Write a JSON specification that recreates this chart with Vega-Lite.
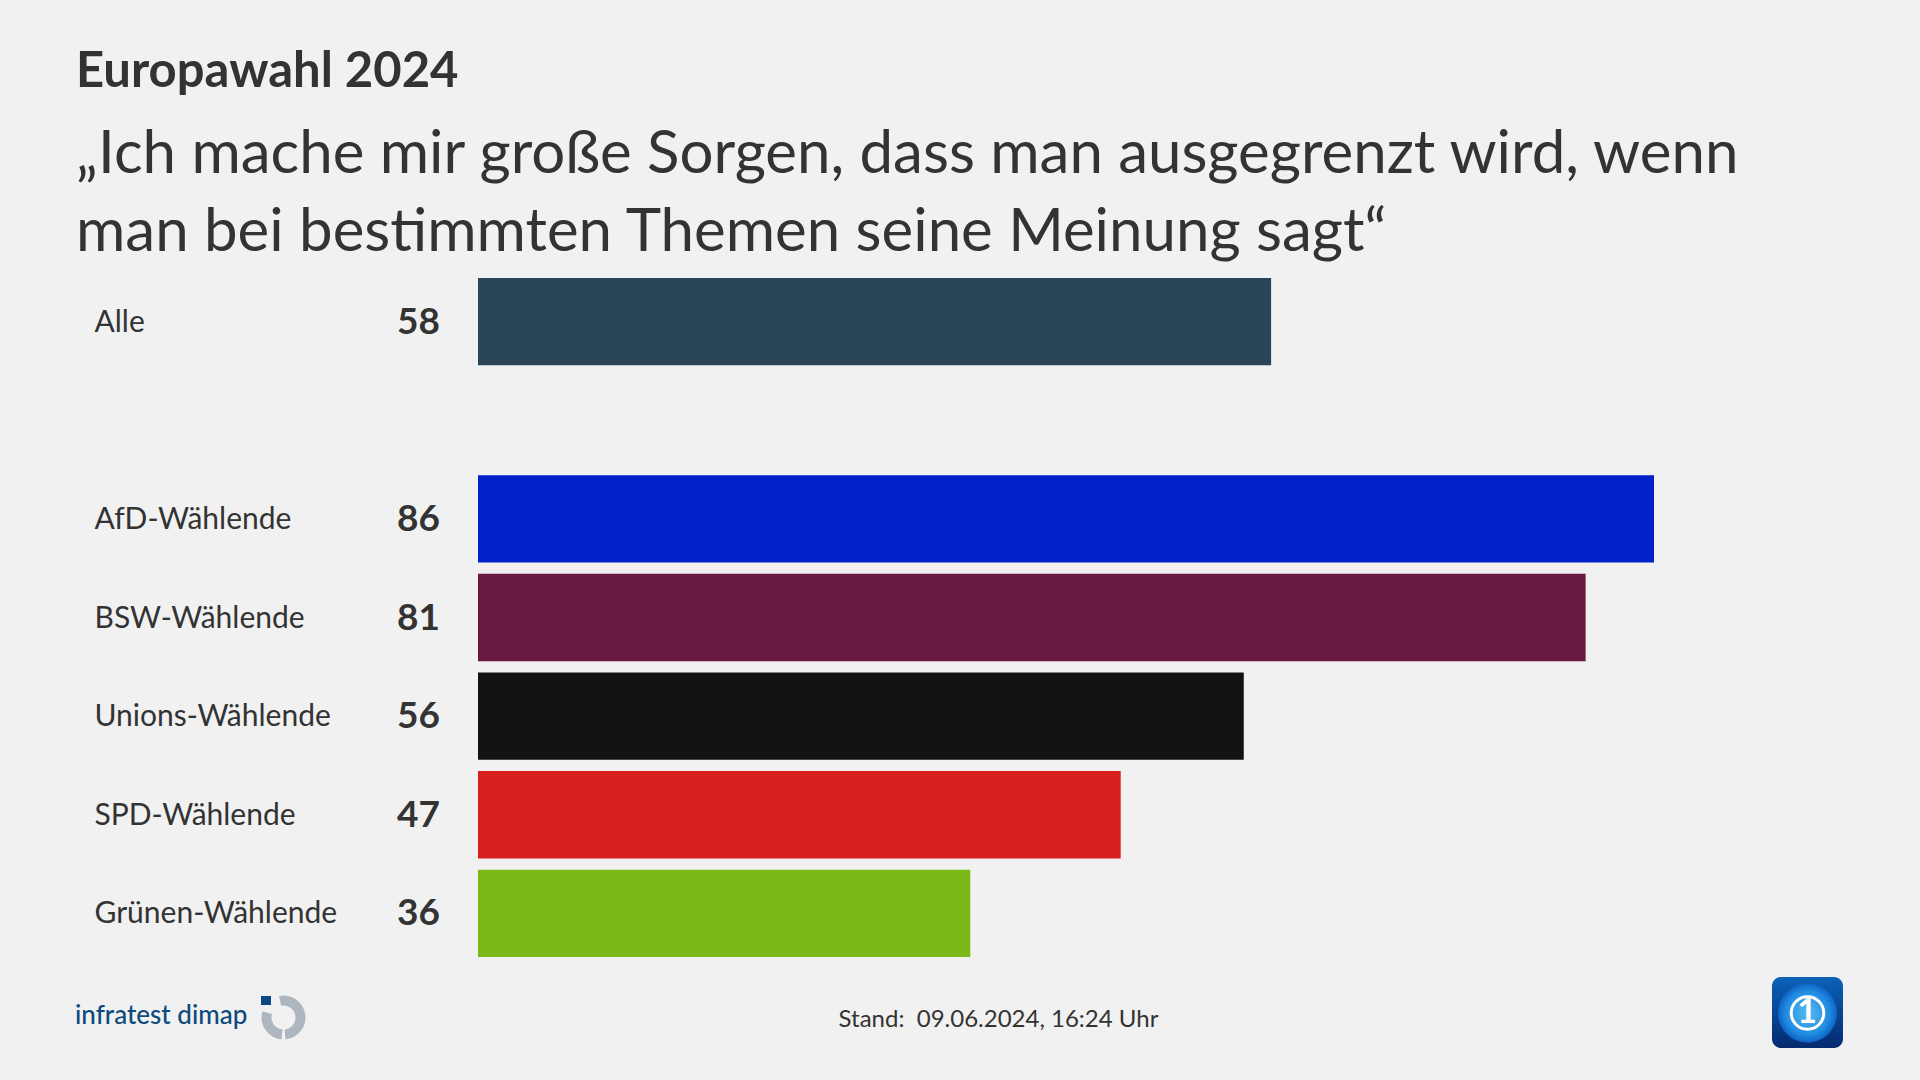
{
  "$schema": "https://vega.github.io/schema/vega-lite/v6.json",
  "background": "#f1f1f1",
  "autosize": {"type": "none"},
  "padding": {"left": 478, "top": 278, "right": 266, "bottom": 123},
  "width": 1176,
  "height": 679,
  "title": {
    "text": "Europawahl 2024",
    "subtitle": ["„Ich mache mir große Sorgen, dass man ausgegrenzt wird, wenn", "man bei bestimmten Themen seine Meinung sagt“"],
    "anchor": "start",
    "frame": "group",
    "dx": -402,
    "offset": 15,
    "font": "Lato",
    "fontSize": 49,
    "fontWeight": "bold",
    "color": "#333333",
    "subtitleFont": "Lato",
    "subtitleFontSize": 60,
    "subtitleFontWeight": "normal",
    "subtitleColor": "#333333",
    "subtitleLineHeight": 78,
    "subtitlePadding": 29
  },
  "datasets": {
    "bars": [
      {"gruppe": "Alle", "wert": 58},
      {"gruppe": "AfD-Wählende", "wert": 86},
      {"gruppe": "BSW-Wählende", "wert": 81},
      {"gruppe": "Unions-Wählende", "wert": 56},
      {"gruppe": "SPD-Wählende", "wert": 47},
      {"gruppe": "Grünen-Wählende", "wert": 36}
    ],
    "logo": [{"px": 283.5, "py": 1017.5}],
    "sq": [{"x1": 261, "x2": 271, "y1": 996, "y2": 1005}],
    "wort": [{"px": 75, "py": 1024, "t": "infratest dimap"}],
    "badge": [{"x1": 1772, "x2": 1843, "y1": 977, "y2": 1048}],
    "globus": [{"px": 1807.5, "py": 1013}],
    "eins": [{"px": 1807, "py": 1013, "t": "1"}]
  },
  "layer": [
    {
      "data": {"name": "bars"},
      "mark": {"type": "bar"},
      "encoding": {
        "y": {
          "field": "gruppe", "type": "nominal",
          "scale": {"domain": ["Alle", " ", "AfD-Wählende", "BSW-Wählende", "Unions-Wählende", "SPD-Wählende", "Grünen-Wählende"], "paddingInner": 0.114, "paddingOuter": 0},
          "axis": {"title": null, "domain": false, "ticks": false, "grid": false, "labelAlign": "left", "labelPadding": 384, "labelFont": "Lato", "labelFontSize": 30, "labelColor": "#333333", "labelLimit": 400, "labelOffset": 1}
        },
        "x": {
          "field": "wert", "type": "quantitative",
          "scale": {"domain": [0, 86], "nice": false},
          "axis": {"title": "Stand:\u00a0 09.06.2024, 16:24 Uhr", "labels": false, "domain": false, "ticks": false, "grid": false, "titleFont": "Lato", "titleFontSize": 24, "titleFontWeight": "normal", "titleColor": "#333333", "titleX": 520, "titleY": 69, "titleBaseline": "alphabetic"}
        },
        "color": {
          "field": "gruppe", "type": "nominal", "legend": null,
          "scale": {"domain": ["Alle", "AfD-Wählende", "BSW-Wählende", "Unions-Wählende", "SPD-Wählende", "Grünen-Wählende"], "range": ["#2b4558", "#0021c8", "#6a1a40", "#121212", "#d71f1d", "#7aba18"]}
        }
      }
    },
    {
      "data": {"name": "bars"},
      "mark": {"type": "text", "align": "right", "baseline": "middle", "dx": -38, "dy": 1, "font": "Lato", "fontSize": 37, "fontWeight": "bold", "color": "#333333"},
      "encoding": {
        "y": {"field": "gruppe", "type": "nominal", "axis": null, "scale": {"type": "band", "domain": ["Alle", " ", "AfD-Wählende", "BSW-Wählende", "Unions-Wählende", "SPD-Wählende", "Grünen-Wählende"], "paddingInner": 0.114, "paddingOuter": 0}},
        "x": {"datum": 0, "type": "quantitative", "axis": null, "scale": {"domain": [0, 86], "nice": false}},
        "text": {"field": "wert", "type": "quantitative"}
      }
    },
    {
      "data": {"name": "wort"},
      "mark": {"type": "text", "align": "left", "baseline": "alphabetic", "font": "Lato", "fontSize": 26, "fontWeight": 500, "color": "#0d4a7d"},
      "encoding": {
        "x": {"field": "px", "type": "quantitative", "axis": null, "scale": {"domain": [478, 1654], "nice": false, "zero": false}},
        "y": {"field": "py", "type": "quantitative", "axis": null, "scale": {"domain": [278, 957], "range": [0, 679], "nice": false, "zero": false}},
        "text": {"field": "t"}
      }
    },
    {
      "data": {"name": "logo"},
      "mark": {"type": "arc", "theta": -0.2, "theta2": 3.05, "innerRadius": 12, "outerRadius": 22, "fill": "#aeb7bf"},
      "encoding": {
        "x": {"field": "px", "type": "quantitative", "axis": null, "scale": {"domain": [478, 1654], "nice": false, "zero": false}},
        "y": {"field": "py", "type": "quantitative", "axis": null, "scale": {"domain": [278, 957], "range": [0, 679], "nice": false, "zero": false}}
      }
    },
    {
      "data": {"name": "logo"},
      "mark": {"type": "arc", "theta": 3.23, "theta2": 5.0, "innerRadius": 12, "outerRadius": 22, "fill": "#aeb7bf"},
      "encoding": {
        "x": {"field": "px", "type": "quantitative", "axis": null, "scale": {"domain": [478, 1654], "nice": false, "zero": false}},
        "y": {"field": "py", "type": "quantitative", "axis": null, "scale": {"domain": [278, 957], "range": [0, 679], "nice": false, "zero": false}}
      }
    },
    {
      "data": {"name": "sq"},
      "mark": {"type": "rect", "fill": "#0d4a85"},
      "encoding": {
        "x": {"field": "x1", "type": "quantitative", "axis": null, "scale": {"domain": [478, 1654], "nice": false, "zero": false}},
        "x2": {"field": "x2"},
        "y": {"field": "y1", "type": "quantitative", "axis": null, "scale": {"domain": [278, 957], "range": [0, 679], "nice": false, "zero": false}},
        "y2": {"field": "y2"}
      }
    },
    {
      "data": {"name": "badge"},
      "mark": {"type": "rect", "cornerRadius": 9, "fill": {"gradient": "linear", "x1": 0, "y1": 0, "x2": 0, "y2": 1, "stops": [{"offset": 0, "color": "#0b62b8"}, {"offset": 1, "color": "#052a70"}]}},
      "encoding": {
        "x": {"field": "x1", "type": "quantitative", "axis": null, "scale": {"domain": [478, 1654], "nice": false, "zero": false}},
        "x2": {"field": "x2"},
        "y": {"field": "y1", "type": "quantitative", "axis": null, "scale": {"domain": [278, 957], "range": [0, 679], "nice": false, "zero": false}},
        "y2": {"field": "y2"}
      }
    },
    {
      "data": {"name": "globus"},
      "mark": {"type": "point", "shape": "circle", "filled": true, "size": 3500, "opacity": 1, "fill": {"gradient": "radial", "x1": 0.5, "y1": 0.5, "x2": 0.5, "y2": 0.5, "r1": 0, "r2": 0.5, "stops": [{"offset": 0, "color": "#58bdf2"}, {"offset": 0.75, "color": "#1f8ae0"}, {"offset": 1, "color": "#0f62c4"}]}},
      "encoding": {
        "x": {"field": "px", "type": "quantitative", "axis": null, "scale": {"domain": [478, 1654], "nice": false, "zero": false}},
        "y": {"field": "py", "type": "quantitative", "axis": null, "scale": {"domain": [278, 957], "range": [0, 679], "nice": false, "zero": false}}
      }
    },
    {
      "data": {"name": "globus"},
      "mark": {"type": "point", "shape": "circle", "filled": false, "size": 1056, "stroke": "#ffffff", "strokeWidth": 3, "opacity": 1},
      "encoding": {
        "x": {"field": "px", "type": "quantitative", "axis": null, "scale": {"domain": [478, 1654], "nice": false, "zero": false}},
        "y": {"field": "py", "type": "quantitative", "axis": null, "scale": {"domain": [278, 957], "range": [0, 679], "nice": false, "zero": false}}
      }
    },
    {
      "data": {"name": "eins"},
      "mark": {"type": "text", "align": "center", "baseline": "middle", "font": "Lato", "fontSize": 34, "fontWeight": "bold", "color": "#ffffff"},
      "encoding": {
        "x": {"field": "px", "type": "quantitative", "axis": null, "scale": {"domain": [478, 1654], "nice": false, "zero": false}},
        "y": {"field": "py", "type": "quantitative", "axis": null, "scale": {"domain": [278, 957], "range": [0, 679], "nice": false, "zero": false}},
        "text": {"field": "t"}
      }
    }
  ],
  "resolve": {"scale": {"x": "independent", "y": "independent", "color": "independent"}, "axis": {"x": "independent", "y": "independent"}},
  "config": {"view": {"stroke": null}}
}
